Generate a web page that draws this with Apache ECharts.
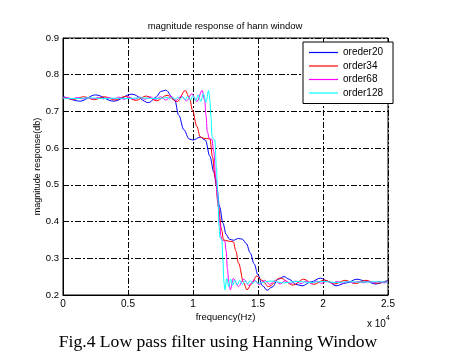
<!DOCTYPE html>
<html><head><meta charset="utf-8">
<script src="https://cdn.jsdelivr.net/npm/echarts@6/dist/echarts.min.js"></script>
<style>html,body{margin:0;padding:0;background:#fff}#c{width:462px;height:363px}</style>
</head><body><div id="c"></div>
<script>
// frequency in units of 10^4 Hz
const xTicks = [0, 0.5, 1, 1.5, 2, 2.5];
const yTicks = [0.2, 0.3, 0.4, 0.5, 0.6, 0.7, 0.8, 0.9];
const seriesNames = ['oreder20', 'order34', 'order68', 'order128'];

const freq20 = [0,0.13,0.25,0.39,0.53,0.66,0.72,0.75,0.79,0.86,0.89,0.93,0.97,1.0,1.055,1.095,1.13,1.16,1.18,1.205,1.23,1.255,1.28,1.31,1.35,1.38,1.41,1.44,1.47,1.5,1.535,1.57,1.61,1.655,1.7,1.74,1.79,1.84,1.91,1.98,2.04,2.1,2.18,2.26,2.33,2.4,2.5];
const mag20  = [0.741,0.728,0.745,0.728,0.747,0.724,0.74,0.754,0.758,0.73,0.69,0.65,0.625,0.622,0.63,0.622,0.578,0.535,0.5,0.44,0.396,0.365,0.352,0.349,0.354,0.352,0.34,0.315,0.285,0.255,0.225,0.213,0.222,0.243,0.25,0.243,0.229,0.225,0.236,0.246,0.237,0.225,0.233,0.243,0.238,0.23,0.24];

const freq34 = [0,0.08,0.16,0.24,0.32,0.4,0.48,0.56,0.64,0.72,0.8,0.88,0.94,0.975,0.995,1.03,1.055,1.08,1.13,1.15,1.17,1.196,1.22,1.235,1.27,1.31,1.33,1.35,1.39,1.415,1.45,1.49,1.53,1.58,1.67,1.77,1.85,1.93,2.01,2.09,2.17,2.25,2.33,2.41,2.5];
const mag34  = [0.739,0.733,0.74,0.732,0.74,0.731,0.741,0.73,0.742,0.729,0.744,0.727,0.757,0.735,0.704,0.659,0.631,0.627,0.625,0.577,0.52,0.44,0.377,0.35,0.347,0.345,0.32,0.287,0.233,0.214,0.23,0.252,0.24,0.223,0.246,0.227,0.243,0.229,0.241,0.23,0.24,0.231,0.24,0.232,0.238];

const freq68 = [0,0.03,0.07,0.11,0.15,0.19,0.23,0.27,0.31,0.35,0.39,0.43,0.47,0.51,0.55,0.59,0.63,0.67,0.71,0.75,0.79,0.83,0.87,0.91,0.95,0.99,1.03,1.07,1.09,1.1,1.11,1.125,1.145,1.16,1.175,1.19,1.205,1.215,1.225,1.245,1.255,1.265,1.275,1.287,1.31,1.35,1.39,1.43,1.47,1.51,1.55,1.59,1.63,1.67,1.71,1.75,1.79,1.83,1.87,1.91,1.95,1.99,2.03,2.07,2.11,2.15,2.19,2.23,2.27,2.31,2.35,2.39,2.43,2.47,2.5];
const mag68  = [0.736,0.738,0.734,0.738,0.734,0.738,0.734,0.738,0.734,0.738,0.734,0.739,0.733,0.739,0.733,0.739,0.733,0.74,0.732,0.74,0.731,0.741,0.73,0.742,0.729,0.748,0.727,0.757,0.73,0.69,0.645,0.627,0.624,0.59,0.52,0.46,0.4,0.36,0.349,0.347,0.32,0.27,0.235,0.214,0.245,0.223,0.243,0.226,0.241,0.228,0.24,0.229,0.239,0.23,0.239,0.231,0.238,0.231,0.238,0.232,0.238,0.232,0.237,0.232,0.237,0.232,0.237,0.233,0.237,0.233,0.237,0.233,0.237,0.233,0.235];

const freq128 = [0,0.1,0.2,0.3,0.4,0.5,0.6,0.7,0.76,0.8,0.82,0.84,0.86,0.88,0.9,0.92,0.94,0.96,0.98,1.0,1.02,1.04,1.06,1.08,1.1,1.12,1.13,1.138,1.146,1.155,1.168,1.18,1.19,1.2,1.207,1.222,1.23,1.238,1.245,1.26,1.275,1.29,1.305,1.32,1.34,1.36,1.38,1.4,1.42,1.44,1.46,1.48,1.5,1.6,1.7,1.8,1.9,2.0,2.1,2.2,2.3,2.4,2.5];
const mag128  = [0.736,0.735,0.737,0.735,0.736,0.735,0.737,0.735,0.736,0.738,0.734,0.739,0.733,0.739,0.733,0.74,0.732,0.741,0.731,0.743,0.729,0.745,0.727,0.749,0.725,0.757,0.73,0.686,0.632,0.626,0.622,0.55,0.478,0.39,0.356,0.35,0.295,0.235,0.214,0.245,0.222,0.243,0.226,0.241,0.228,0.24,0.229,0.239,0.23,0.239,0.231,0.238,0.232,0.238,0.233,0.237,0.234,0.237,0.234,0.236,0.235,0.236,0.235];

const colors = ['#0000ff', '#ff0000', '#ff00ff', '#00ffff'];
const freqs = [freq20, freq34, freq68, freq128];
const mags = [mag20, mag34, mag68, mag128];

const chart = echarts.init(document.getElementById('c'), null, {renderer: 'canvas'});
const font = 'Liberation Sans, Arial, sans-serif';
const gridStyle = {show: true, lineStyle: {color: '#000', width: 1, type: [6, 2, 2, 2]}};

chart.setOption({
  animation: false,
  backgroundColor: '#fff',
  textStyle: {fontFamily: font, color: '#000'},
  title: {
    text: 'magnitude response of hann window',
    left: 225, top: 21, textAlign: 'center', padding: 0,
    textStyle: {fontSize: 9.5, fontWeight: 'normal', color: '#000', fontFamily: font}
  },
  legend: {
    data: seriesNames, orient: 'vertical', left: 303, top: 42, icon: 'rect',
    padding: [5, 6, 5, 6], itemWidth: 29, itemHeight: 1.2, itemGap: 2.5,
    borderColor: '#000', borderWidth: 1, backgroundColor: '#fff',
    textStyle: {fontSize: 10, color: '#000', fontFamily: font, lineHeight: 11, padding: [0, 4, 0, 0]}
  },
  grid: {left: 63, right: 74, top: 38, bottom: 68, show: true, borderColor: '#000', borderWidth: 1, containLabel: false},
  xAxis: {
    type: 'value', min: 0, max: 2.5, interval: 0.5,
    name: 'frequency(Hz)', nameLocation: 'middle', nameGap: 17, nameMoveOverlap: false,
    nameTextStyle: {fontSize: 9.5, color: '#000', fontFamily: font},
    axisLine: {lineStyle: {color: '#000', width: 1}},
    axisTick: {inside: true, length: 4, lineStyle: {color: '#000'}},
    axisLabel: {fontSize: 10, color: '#000', margin: 4, fontFamily: font,
      formatter: v => xTicks.includes(+v.toFixed(2)) ? String(+v.toFixed(2)) : ''},
    splitLine: gridStyle
  },
  yAxis: {
    type: 'value', min: 0.2, max: 0.9, interval: 0.1,
    name: 'magnitude response(db)', nameLocation: 'middle', nameGap: 21, nameMoveOverlap: false,
    nameTextStyle: {fontSize: 9, color: '#000', fontFamily: font},
    axisLine: {lineStyle: {color: '#000', width: 1}},
    axisTick: {inside: true, length: 4, lineStyle: {color: '#000'}},
    axisLabel: {fontSize: 9.5, color: '#000', margin: 4, fontFamily: font,
      formatter: v => yTicks.includes(+v.toFixed(2)) ? (+v.toFixed(2)).toFixed(1) : ''},
    splitLine: gridStyle
  },
  graphic: [
    {type: 'text', left: 367, top: 315, style: {
      text: '{a|x 10}{b|4}', fill: '#000',
      rich: {a: {fontSize: 10, fontFamily: font, padding: [4, 0, 0, 0]}, b: {fontSize: 7, fontFamily: font, verticalAlign: 'top', padding: [0, 0, 6, 0]}}
    }},
    {type: 'text', x: 218, y: 342, style: {
      text: 'Fig.4 Low pass filter using Hanning Window', fill: '#000',
      font: '17.6px "Liberation Serif", "Times New Roman", serif', textAlign: 'center', textVerticalAlign: 'middle'
    }}
  ],
  series: seriesNames.map((n, i) => ({
    name: n, type: 'line', symbol: 'none', smooth: 0.35, smoothMonotone: 'x',
    color: colors[i], lineStyle: {width: 1, color: colors[i]},
    data: freqs[i].map((f, j) => [f, mags[i][j]])
  }))
});
</script></body></html>
